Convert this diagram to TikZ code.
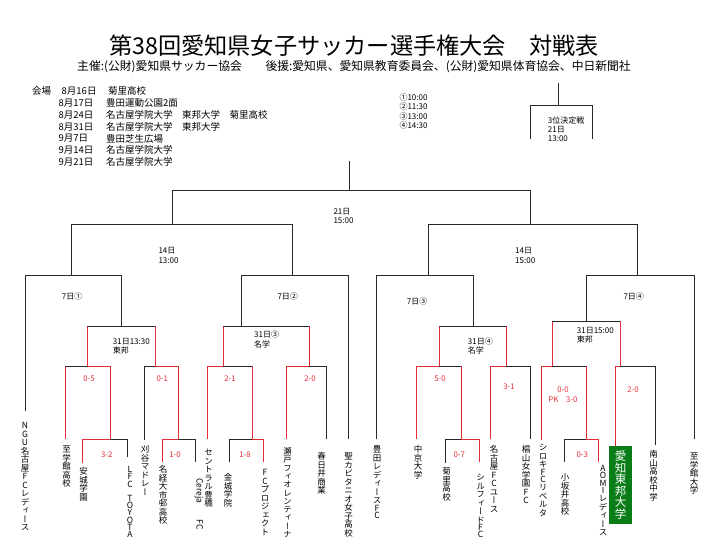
\documentclass[tikz,border=0pt]{standalone}
\usepackage{fontspec}
\setmainfont{Noto Sans CJK JP}
\newfontfamily\vjp[RawFeature=+vert]{Noto Sans CJK JP}
\usepackage{xcolor}
\usepackage{tikz}
\usetikzlibrary{positioning}
\definecolor{winred}{RGB}{228,45,50}
\definecolor{lineblk}{RGB}{40,40,40}
\definecolor{boxgreen}{RGB}{10,125,25}

% vertical team names: one character per cell (Latin cells may be shorter)
\makeatletter
\newlength\vcell
\newcommand\vtext[2][1em]{\setlength\vcell{#1}\vbox{\offinterlineskip\vt@loop#2\relax}}
\def\vt@loop#1{\ifx\relax#1\else\vt@cell{#1}\expandafter\vt@loop\fi}
\def\vt@cell#1{\ifnum`#1<128 \dimen@=\vcell\else\dimen@=1em\fi
    \hbox to 1em{\hss\rule[-0.12\dimen@]{0pt}{\dimen@}\smash{#1}\hss}}
\makeatother

\begin{document}
\begin{tikzpicture}[x=1pt,y=-1pt,
    blk/.style={draw=lineblk, line width=0.8pt, line cap=rect},
    win/.style={draw=winred, line width=0.8pt, line cap=rect},
    team/.style={anchor=north, inner sep=0pt, font=\vjp\fontsize{8.5}{8.5}\selectfont},
    score/.style={inner sep=0pt, text=winred, align=center, font=\fontsize{7.8}{10}\selectfont},
    info/.style={anchor=west, inner sep=0pt, align=left, font=\fontsize{8}{9.3}\selectfont},
    venue/.style={anchor=west, inner sep=0pt, font=\fontsize{9.5}{11}\selectfont}]
    \useasboundingbox (0,0) rectangle (720,540);

    % Title
    \node[font=\fontsize{23.2}{26}\selectfont] (title) at (354,45.5) {第38回愛知県女子サッカー選手権大会　対戦表};
    \node[font=\fontsize{11.8}{14}\selectfont] (sponsor) at (354,67) {主催:(公財)愛知県サッカー協会\hspace{2em}後援:愛知県、愛知県教育委員会、(公財)愛知県体育協会、中日新聞社};

    % Venues
    \node[venue] (venue0) at (32,91.3) {会場};
    \node[venue] (date0) at (61.5,91.3) {8月16日};
    \node[venue] (place0) at (108,91.3) {菊里高校};
    \foreach \d/\p [count=\i] in {8月17日/豊田運動公園2面, 8月24日/名古屋学院大学　東邦大学　菊里高校,
        8月31日/名古屋学院大学　東邦大学, 9月7日/豊田芝生広場, 9月14日/名古屋学院大学, 9月21日/名古屋学院大学}{
        \node[venue] (date\i) at (58.3,91.3+11.8*\i) {\d};
        \node[venue] (place\i) at (106,91.3+11.8*\i) {\p};
    }

    % Kick-off times
    \foreach \t [count=\i] in {①10:00,②11:30,③13:00,④14:30}
        \node[info] (slot\i) at (399.3,88+9.33*\i) {\t};

    % Third place match
    \draw[blk] (558.7,83) -- (558.7,105.3);
    \draw[blk] (530.3,139) -- (530.3,105.3) -- (592.3,105.3) -- (592.3,139);
    \node[info] (third) at (547.7,129.3) {3位決定戦\\21日\\13:00};

    % Final
    \draw[blk] (349,161) -- (349,190.7);
    \draw[blk] (172.7,224) -- (172.7,190.7) -- (530,190.7) -- (530,224);
    \node[info] (final) at (333.3,216) {21日\\15:00};

    % Semi-finals
    \draw[blk] (71,275) -- (71,224) -- (292,224) -- (292,275);
    \draw[blk] (428,275) -- (428,224) -- (637.7,224) -- (637.7,275);
    \node[info] (semiA) at (158.3,255.5) {14日\\13:00};
    \node[info] (semiB) at (515,255.5) {14日\\15:00};

    % Quarter-finals
    \draw[blk] (25.3,410.7) -- (25.3,275) -- (121.7,275) -- (121.7,326.7);
    \draw[blk] (241,326.7) -- (241,275) -- (348.3,275) -- (348.3,439);
    \draw[blk] (376.7,439) -- (376.7,275) -- (473.3,275) -- (473.3,326.7);
    \draw[blk] (586.7,321.7) -- (586.7,275) -- (694,275) -- (694,439);
    \node[info] (qfA) at (61.7,296.3) {7日①};
    \node[info] (qfB) at (277.3,296.3) {7日②};
    \node[info] (qfC) at (406.7,301.7) {7日③};
    \node[info] (qfD) at (623.3,296.3) {7日④};

    % 31st matches
    \draw[win] (87.7,366) -- (87.7,326.7);   \draw[blk] (87.7,326.7) -- (155.7,326.7);   \draw[win] (155.7,326.7) -- (155.7,366);
    \draw[win] (223.7,366) -- (223.7,326.7); \draw[blk] (223.7,326.7) -- (309,326.7);    \draw[win] (309,326.7) -- (309,366);
    \draw[win] (439.3,366) -- (439.3,326.7); \draw[blk] (439.3,326.7) -- (506.7,326.7);  \draw[win] (506.7,326.7) -- (506.7,366);
    \draw[win] (552.7,366) -- (552.7,321.7); \draw[blk] (552.7,321.7) -- (620.7,321.7);  \draw[win] (620.7,321.7) -- (620.7,366);
    \node[info] (rdA) at (112.7,346.2) {31日13:30\\東邦};
    \node[info] (rdB) at (254,339.5) {31日③\\名学};
    \node[info] (rdC) at (467.7,346) {31日④\\名学};
    \node[info] (rdD) at (576.7,335) {31日15:00\\東邦};

    % Second round
    \draw[win] (65,439) -- (65,366);  \draw[blk] (65,366) -- (87.7,366);  \draw[win] (87.7,366) -- (110.3,366) -- (110.3,439.3);
    \draw[blk] (144.3,440) -- (144.3,366) -- (155.7,366);  \draw[win] (155.7,366) -- (178.3,366) -- (178.3,439.3);
    \draw[win] (207,439) -- (207,366) -- (223.7,366);  \draw[blk] (223.7,366) -- (252,366);  \draw[win] (252,366) -- (252,439.3);
    \draw[win] (286.3,439) -- (286.3,366) -- (309,366);  \draw[blk] (309,366) -- (326,366) -- (326,439);
    \draw[win] (416.7,439) -- (416.7,366) -- (439.3,366);  \draw[blk] (439.3,366) -- (461.7,366);  \draw[win] (461.7,366) -- (461.7,439.3);
    \draw[win] (490.7,439) -- (490.7,366) -- (506.7,366);  \draw[blk] (506.7,366) -- (530,366) -- (530,439);
    \draw[win] (541.7,440) -- (541.7,366) -- (552.7,366);  \draw[blk] (552.7,366) -- (586.7,366);  \draw[win] (586.7,366) -- (586.7,439.3);
    \draw[win] (615,446) -- (615,366) -- (620.7,366);  \draw[blk] (620.7,366) -- (655,366) -- (655,445);

    % First round
    \draw[win] (82.3,463) -- (82.3,439.3) -- (110.3,439.3);  \draw[blk] (110.3,439.3) -- (127.3,439.3) -- (127.3,457);
    \draw[win] (162,461.7) -- (162,439.3) -- (178.3,439.3);  \draw[blk] (178.3,439.3) -- (195.7,439.3) -- (195.7,462);
    \draw[blk] (229.3,462) -- (229.3,439.3) -- (252,439.3);  \draw[win] (252,439.3) -- (263.3,439.3) -- (263.3,461.7);
    \draw[blk] (445,463) -- (445,439.3) -- (461.7,439.3);    \draw[win] (461.7,439.3) -- (479,439.3) -- (479,461.7);
    \draw[blk] (564,461.7) -- (564,439.3) -- (586.7,439.3);  \draw[win] (586.7,439.3) -- (598.3,439.3) -- (598.3,461.7);

    % Scores
    \node[score] (sc05) at (89,379) {0-5};
    \node[score] (sc01) at (162.3,379) {0-1};
    \node[score] (sc32) at (106.7,455) {3-2};
    \node[score] (sc10) at (175,455) {1-0};
    \node[score] (sc21) at (230,379) {2-1};
    \node[score] (sc18) at (245,455) {1-8};
    \node[score] (sc20a) at (310,379) {2-0};
    \node[score] (sc50) at (440,379) {5-0};
    \node[score] (sc07) at (459.3,455) {0-7};
    \node[score] (sc31) at (509,386.7) {3-1};
    \node[score] (scpk) at (563,394.3) {0-0\\PK　3-0};
    \node[score] (sc20b) at (633,390) {2-0};
    \node[score] (sc03) at (582.3,455) {0-3};

    % Teams
    \node[team] (ngu) at (25,421) {\vtext{NGU名古屋FCレディース}};
    \node[team] (shigakukan) at (66.5,445) {\vtext{至学館高校}};
    \node[team] (anjo) at (83.5,467) {\vtext{安城学園}};
    \node[team] (lfc) at (130,466) {\vtext[0.85em]{LFC~TOYOTA}};
    \node[team] (kariya) at (145,445) {\vtext{刈谷マドレー}};
    \node[team] (meikei) at (163,465) {\vtext{名経大市邨高校}};
    \node[inner sep=0pt, anchor=west, rotate=-90, font=\fontsize{8.5}{8.5}\selectfont] (cereja) at (199,478) {Cereja\hspace{1.9em}FC};
    \node[team] (central) at (208.5,448) {\vtext{セントラル豊橋}};
    \node[team] (kinjo) at (228,473) {\vtext{金城学院}};
    \node[team] (fcpro) at (265,468) {\vtext{FCプロジェクト}};
    \node[team, font=\vjp\fontsize{8.3}{8.3}\selectfont] (seto) at (287.5,447) {\vtext{瀬戸フィオレンティーナ}};
    \node[team] (kasugai) at (321.5,452) {\vtext{春日井商業}};
    \node[team] (capitanio) at (348.5,452) {\vtext{聖カピタニオ女子高校}};
    \node[team] (toyota) at (377,445) {\vtext[0.85em]{豊田レディースFC}};
    \node[team] (chukyo) at (418,445) {\vtext{中京大学}};
    \node[team] (kikuzato) at (446.5,467) {\vtext{菊里高校}};
    \node[team] (sylphid) at (480.5,473) {\vtext[0.85em]{シルフィードFC}};
    \node[team] (nagoyafc) at (494,445) {\vtext{名古屋FCユース}};
    \node[team] (sugiyama) at (526,445) {\vtext{椙山女学園FC}};
    \node[team] (shiroki) at (543,443) {\vtext[0.85em]{シロキFCリベルタ}};
    \node[team] (kozakai) at (565,473) {\vtext{小坂井高校}};
    \node[team] (aomi) at (603,465) {\vtext[0.85em]{AOMIレディース}};
    \node[fill=boxgreen, text=white, inner sep=0pt, minimum width=22.4pt, minimum height=78.3pt,
        font=\vjp\fontsize{11.5}{11.5}\selectfont] (aitoho) at (620.5,485.2) {\vtext{愛知東邦大学}};
    \node[team] (nanzan) at (653.5,450) {\vtext{南山高校中学}};
    \node[team] (shigakudai) at (694,452) {\vtext{至学館大学}};
\end{tikzpicture}
\end{document}
